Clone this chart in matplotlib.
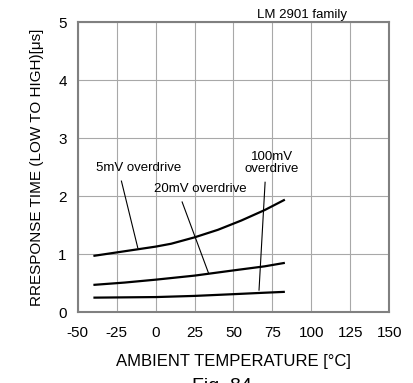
import matplotlib

matplotlib.use("Agg")

import matplotlib.pyplot as plt  # noqa: E402

# Response time (low to high) vs ambient temperature, LM2901 family
temp_5mv = [-40, -25, -10, 0, 10, 25, 40, 55, 70, 83]
resp_5mv = [0.97, 1.03, 1.09, 1.13, 1.18, 1.29, 1.42, 1.58, 1.76, 1.94]

temp_20mv = [-40, -20, 0, 25, 50, 70, 83]
resp_20mv = [0.47, 0.51, 0.56, 0.63, 0.72, 0.79, 0.85]

temp_100mv = [-40, -20, 0, 25, 50, 70, 83]
resp_100mv = [0.25, 0.255, 0.26, 0.28, 0.31, 0.335, 0.35]

x_ticks = [-50, -25, 0, 25, 50, 75, 100, 125, 150]
y_ticks = [0, 1, 2, 3, 4, 5]

# label text, text position, leader line (start, end)
labels = [
    ("5mV overdrive", (-11, 2.49), (-22, 2.26), (-11.5, 1.11)),
    ("20mV overdrive", (28.5, 2.12), (17, 1.90), (34, 0.67)),
    ("100mV\noverdrive", (74.5, 2.57), (70.3, 2.24), (66.4, 0.38)),
]

plt.rcParams["font.family"] = ["Liberation Sans", "DejaVu Sans"]
plt.rcParams["axes.unicode_minus"] = False

fig = plt.figure(figsize=(4.14, 3.83), dpi=100)
ax = fig.add_axes([0.188, 0.185, 0.752, 0.757])

for xs, ys in ((temp_5mv, resp_5mv), (temp_20mv, resp_20mv), (temp_100mv, resp_100mv)):
    ax.plot(xs, ys, color="black", linewidth=1.6, solid_capstyle="butt")

for text, pos, start, end in labels:
    ax.plot([start[0], end[0]], [start[1], end[1]], color="black", linewidth=0.8)
    ax.text(pos[0], pos[1], text, ha="center", va="center", fontsize=9.5, linespacing=1.0)

ax.set_xlim(-50, 150)
ax.set_ylim(0, 5)
ax.set_xticks(x_ticks)
ax.set_yticks(y_ticks)
ax.tick_params(length=0, labelsize=11)
ax.tick_params(axis="x", pad=10)
ax.tick_params(axis="y", pad=8)
ax.grid(True, color="#a8a8a8", linewidth=0.8)
for spine in ax.spines.values():
    spine.set_color("#808080")
    spine.set_linewidth(1.5)

ax.set_xlabel("AMBIENT TEMPERATURE [\u00b0C]", fontsize=12, labelpad=10)
ax.set_ylabel("RRESPONSE TIME (LOW TO HIGH)[\u03bcs]", fontsize=11, labelpad=10)
ax.text(94, 5.12, "LM 2901 family", ha="center", va="center", fontsize=9.5)

fig.text(0.535, -0.01, "Fig. 84", ha="center", va="center", fontsize=14)

fig.savefig("out.png", dpi=100)
